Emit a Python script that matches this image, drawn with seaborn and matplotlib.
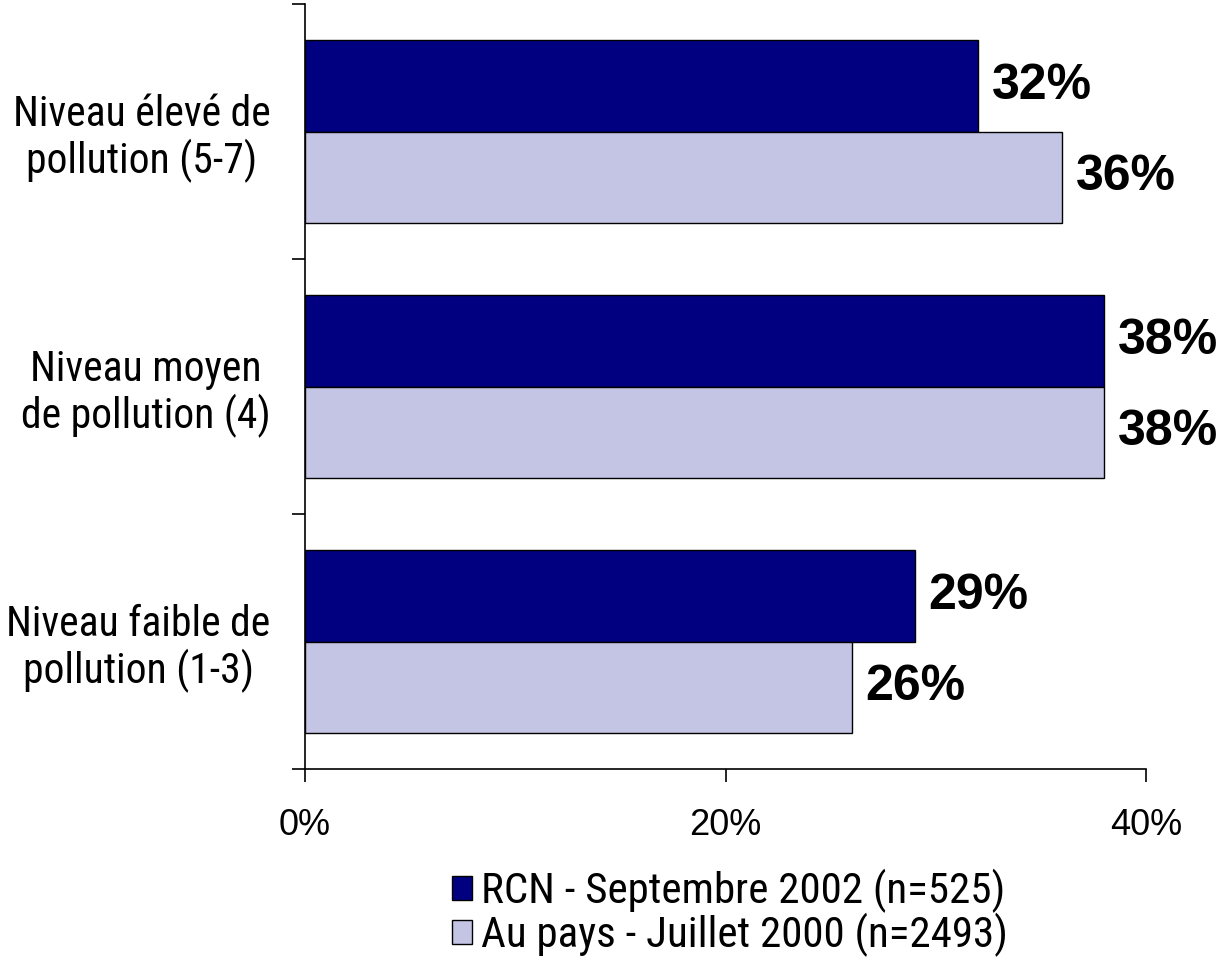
import matplotlib
matplotlib.use("Agg")
import matplotlib.pyplot as plt
from matplotlib import font_manager
import seaborn as sns
import pandas as pd
from matplotlib.patches import Patch

# ==========================================
# DATA
# ==========================================
categories = [
    "Niveau élevé de\npollution (5-7)",
    "Niveau moyen\nde pollution (4)",
    "Niveau faible de\npollution (1-3)",
]
series = ["RCN - Septembre 2002 (n=525)", "Au pays - Juillet 2000 (n=2493)"]
rcn_2002 = [32, 38, 29]
pays_2000 = [36, 38, 26]
x_ticks = [0, 20, 40]
x_tick_labels = ["0%", "20%", "40%"]

colors = ["#000080", "#c4c4e4"]

# narrow font if one is around, plain Arial-like otherwise
installed = {f.name for f in font_manager.fontManager.ttflist}
narrow = [n for n in ["Liberation Sans Narrow", "Arial Narrow", "Roboto Condensed",
                      "Open Sans Condensed"] if n in installed]
NARROW = narrow[:1] + ["Liberation Sans", "DejaVu Sans"]
REGULAR = ["Liberation Sans", "DejaVu Sans"]
small = 0 if narrow else 1  # shrink when falling back to a wide font

df = pd.DataFrame({
    "cat": categories * 2,
    "val": rcn_2002 + pays_2000,
    "serie": [series[0]] * 3 + [series[1]] * 3,
})

# ==========================================
# PLOT
# ==========================================
sns.set_style("white")
plt.rcParams["font.family"] = REGULAR
plt.rcParams["text.color"] = "black"
plt.rcParams["xtick.color"] = "black"
plt.rcParams["ytick.color"] = "black"

fig = plt.figure(figsize=(12.27, 9.63), dpi=100)
ax = fig.add_axes([305 / 1227, 1 - 769 / 963, (1146 - 305) / 1227, (769 - 4) / 963])

sns.barplot(data=df, y="cat", x="val", hue="serie", order=categories,
            hue_order=series, palette=colors, width=0.714, orient="h",
            edgecolor="black", linewidth=1, saturation=1, legend=False, ax=ax)

# value labels
for cont in ax.containers:
    ax.bar_label(cont, fmt="%d%%", padding=10, fontsize=36, fontweight="bold",
                 family=REGULAR, color="black")

ax.set_xlim(0, 40)
ax.set_ylim(2.5, -0.5)
ax.set_xlabel("")
ax.set_ylabel("")

# x axis
ax.set_xticks(x_ticks)
ax.set_xticklabels(x_tick_labels, fontsize=26, family=REGULAR, color="black")
ax.tick_params(axis="x", direction="out", length=9, width=1.2, pad=19,
               bottom=True, color="black")

# y axis: major ticks at category separators, labels on minor ticks
ax.set_yticks([-0.5, 0.5, 1.5, 2.5])
ax.set_yticklabels([])
ax.set_yticks([0, 1, 2], minor=True)
ax.set_yticklabels(categories, minor=True, fontsize=30 - 4 * small, family=NARROW,
                   multialignment="center", color="black", linespacing=1.12)
ax.tick_params(axis="y", which="major", direction="out", length=9.5,
               width=1.2, left=True, color="black")
ax.tick_params(axis="y", which="minor", length=0, pad=25)

for side in ["top", "right"]:
    ax.spines[side].set_visible(False)
for side in ["left", "bottom"]:
    ax.spines[side].set_color("black")
    ax.spines[side].set_linewidth(1.2)
ax.grid(False)

handles = [Patch(facecolor=c, edgecolor="black", linewidth=1) for c in colors]
leg = fig.legend(handles, series, loc="center", bbox_to_anchor=(730 / 1227, 0.052),
                 frameon=False, prop={"family": NARROW, "size": 31 - 4 * small},
                 handlelength=0.47, handleheight=0.47, handletextpad=0.2,
                 labelspacing=0.0, borderpad=0)
for t in leg.get_texts():
    t.set_color("black")

plt.savefig("out.png", dpi=100)
